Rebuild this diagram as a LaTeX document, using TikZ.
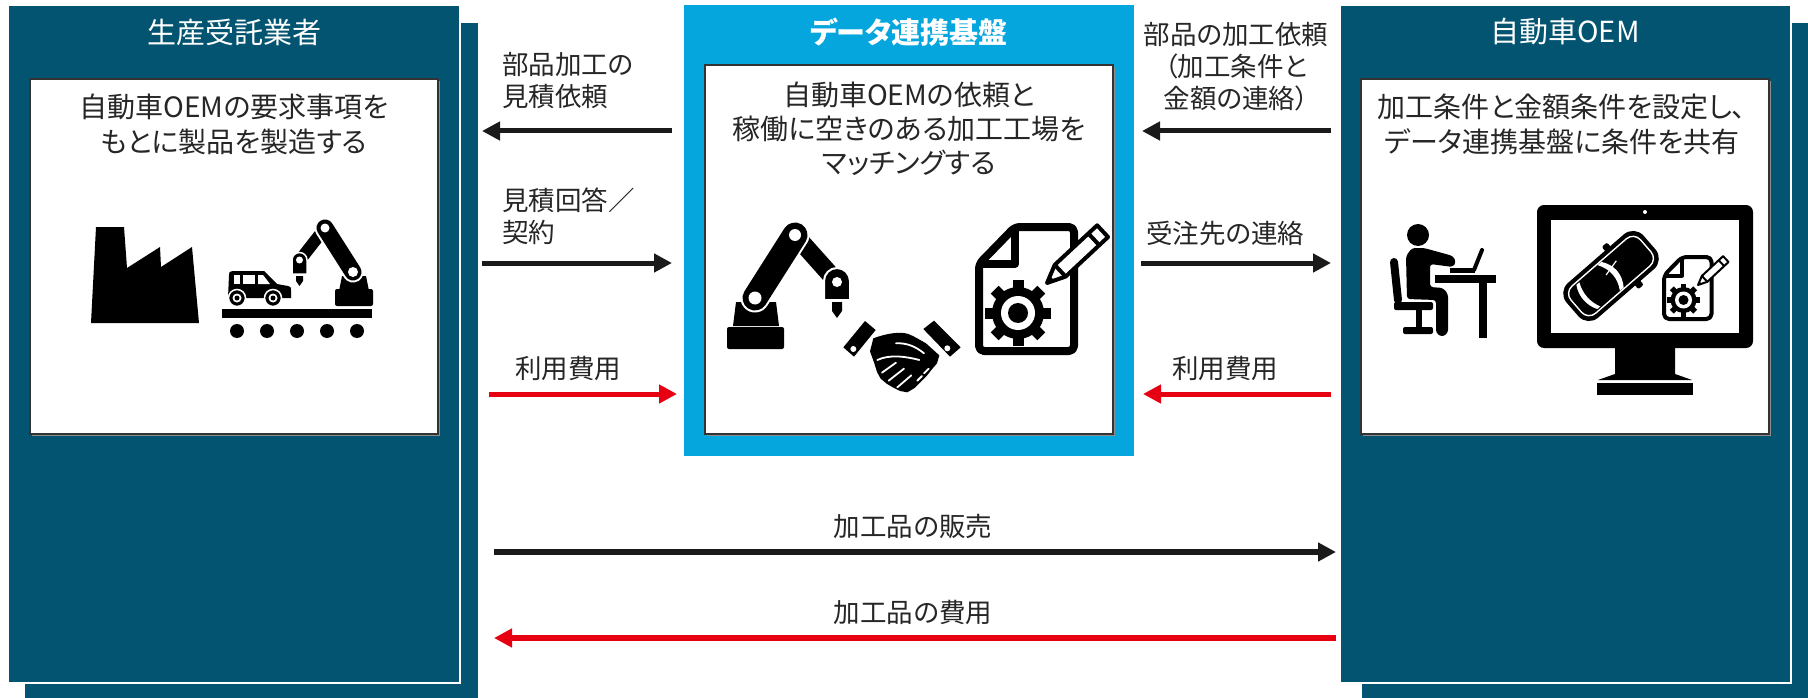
\documentclass[tikz,border=0pt]{standalone}
\usepackage{fontspec}
\setmainfont{Noto Sans CJK JP}[RawFeature=+palt]
\usetikzlibrary{arrows.meta}

\definecolor{panelblue}{HTML}{025470}
\definecolor{hubblue}{HTML}{05A5DE}
\definecolor{payred}{HTML}{E60012}
\definecolor{flowblack}{HTML}{1A1A1A}
\definecolor{txt}{HTML}{262626}
\definecolor{frame}{HTML}{333333}

\tikzset{
  paneltitle/.style={text=white, font=\fontsize{29}{34}\selectfont, inner sep=0pt},
  bodytext/.style={text=txt, font=\fontsize{28}{35}\selectfont, align=center, inner sep=0pt},
  flowlabel/.style={text=txt, font=\fontsize{26.5}{32}\selectfont, inner sep=0pt},
  flowarrow/.style={draw=flowblack, line width=5pt, -{Triangle[length=18pt,width=18pt]}},
  payarrow/.style={flowarrow, draw=payred},
  innerbox/.style={fill=white, draw=frame, line width=2pt},
  innershadow/.style={fill=black!45},
  % sheet of paper with a gear and a pencil; #1 = line-width factor
  pics/docgear/.style={code={
    \draw[line width=#1*8pt, line join=round, rounded corners=5pt, fill=white]
      (40,4) -- (99,4) -- (99,128) -- (4,128) -- (4,41) -- cycle;
    \draw[line width=#1*8pt, line join=round] (40,4) -- (40,41) -- (4,41);
    \fill (43,90) circle (26);
    \foreach \a in {0,45,...,315}
      \fill[rotate around={\a:(43,90)}] (37.5,57) rectangle (48.5,70);
    \fill[white] (43,90) circle (17);
    \fill (43,90) circle (10);
    \begin{scope}[shift={(72,60)}, rotate=43]
      \draw[line width=#1*4pt, line join=round, fill=white]
        (0,0) -- (18,-8) -- (76,-8) -- (76,8) -- (18,8) -- cycle;
      \draw[line width=#1*4pt] (18,-8) -- (18,8) (64,-8) -- (64,8);
      \fill (0,0) -- (7,-3.2) -- (7,3.2) -- cycle;
    \end{scope}
  }},
}

\begin{document}
\begin{tikzpicture}[x=1pt, y=-1pt]
\useasboundingbox (0,0) rectangle (1808,698);

% ---------- panels ----------
\fill[panelblue] (25,23) rectangle (478,698);
\filldraw[fill=panelblue, draw=white, line width=2pt] (8,5) rectangle (460,683);
\fill[panelblue] (1362,23) rectangle (1808,698);
\filldraw[fill=panelblue, draw=white, line width=2pt] (1340,5) rectangle (1791,683);
\fill[hubblue] (684,5) rectangle (1134,456);

\fill[innershadow] (32,81) rectangle (440,436);
\filldraw[innerbox] (30,79) rectangle (438,434);
\fill[innershadow] (707,67) rectangle (1115,436);
\filldraw[innerbox] (705,65) rectangle (1113,434);
\fill[innershadow] (1363,81) rectangle (1771,436);
\filldraw[innerbox] (1361,79) rectangle (1769,434);

% ---------- titles and descriptions ----------
\node[paneltitle] (makertitle) at (234,32) {生産受託業者};
\node[paneltitle, font=\fontsize{29}{34}\selectfont\bfseries] (hubtitle) at (909,32) {データ連携基盤};
\node[paneltitle] (oemtitle) at (1565,32) {自動車OEM};

\node[bodytext] (makertext) at (234,124) {自動車OEMの要求事項を\\もとに製品を製造する};
\node[bodytext, font=\fontsize{28}{34}\selectfont] (hubtext) at (909,129) {自動車OEMの依頼と\\稼働に空きのある加工工場を\\マッチングする};
\node[bodytext] (oemtext) at (1562,124) {加工条件と金額条件を設定し、\\データ連携基盤に条件を共有};

% ---------- factory and assembly line ----------
\fill (91,323) -- (96,227) -- (124,227) -- (127,268) -- (160,247) -- (161,267)
      -- (192,247) -- (199,323) -- cycle;
\fill (222,309) rectangle (372,318);
\foreach \cx in {237,267,297,327,357} \fill (\cx,331) circle (7);
% car
\fill (228,298) -- (229,275) .. controls (229,272) .. (233,271) -- (264,271)
      -- (277,284) -- (288,286) .. controls (291,287) .. (291,290) -- (291,298) -- cycle;
\fill[white] (234,275) rectangle (240,284);
\fill[white] (243,275) rectangle (255,284);
\fill[white] (258,275) -- (263,275) -- (270,284) -- (258,284) -- cycle;
\foreach \wx in {237,273} {
  \filldraw[fill=black, draw=white, line width=1.5pt] (\wx,298) circle (8.5);
  \fill[white] (\wx,298) circle (4.5);
  \fill (\wx,298) circle (2.5);
}
% small robot arm
\fill[rounded corners=2pt] (335,289) rectangle (373,306);
\fill (339,291) -- (342,276) -- (366,276) -- (369,291) -- cycle;
\draw[line width=12pt, line cap=round] (325,228) -- (300,260);
\draw[white, line width=21pt, line cap=round] (353,272) -- (325,228);
\draw[line width=17pt, line cap=round] (353,272) -- (325,228);
\fill[white] (353,272) circle (5);
\fill[white] (325,228) circle (4.5);
\filldraw[fill=black, draw=white, line width=1.5pt]
  (292,274) -- (292,260) arc[start angle=180, end angle=360, radius=7.5] -- (307,274) -- cycle;
\fill[white] (299.5,260) circle (3.5);
\fill (296,276) -- (303,276) -- (303,281) -- (299.5,286) -- (296,281) -- cycle;

% ---------- platform: robot arm, handshake, specification sheet ----------
\fill[rounded corners=2pt] (727,327) rectangle (784,349);
\fill (733,326) -- (736,302) -- (776,302) -- (779,326) -- cycle;
\draw[line width=18pt, line cap=round] (795,235) -- (837,282);
\draw[white, line width=29pt, line cap=round] (755,298) -- (795,235);
\draw[line width=25pt, line cap=round] (755,298) -- (795,235);
\fill[white] (755,298) circle (6.5);
\fill[white] (795,235) circle (6);
\filldraw[fill=black, draw=white, line width=2pt]
  (824,300) -- (824,281) arc[start angle=180, end angle=360, radius=13] -- (850,300) -- cycle;
\fill[white] (837,282) circle (5);
\fill (832,302) -- (842,302) -- (842,311) -- (837,318) -- (832,311) -- cycle;

\begin{scope}[shift={(840,310)}, scale=0.3333]
  % cuffs
  \fill (10,112) -- (75,33) -- (107,60) -- (42,140) -- cycle;
  \fill (250,57) -- (282,32) -- (362,112) -- (330,140) -- cycle;
  \fill[white] (40,117) circle (9);
  \fill[white] (322,115) circle (9);
  % clasped hands
  \fill (100,85) .. controls (140,70) and (180,64) .. (205,72)
        .. controls (225,80) and (240,90) .. (258,100) -- (298,136) -- (291,160)
        -- (274,180) -- (260,198) -- (242,216) -- (224,234) -- (202,247)
        -- (180,243) -- (160,233) -- (140,221) -- (122,206) -- (111,186)
        -- (103,160) -- (90,124) -- cycle;
  \draw[white, line width=1.8pt, line cap=round]
    (168,100) .. controls (200,98) and (228,110) .. (252,130)
    (112,150) .. controls (150,132) and (200,140) .. (238,150)
    (126,188) -- (168,158)
    (146,212) -- (192,176)
    (172,232) -- (214,196)
    (252,190) -- (266,176) (232,212) -- (246,198);
\end{scope}

\pic[scale=1] (sheet) at (975,223) {docgear=1};

% ---------- OEM: engineer at a desk and monitor ----------
\fill (1418,235) circle (11);
\fill[rounded corners=3pt] (1407,299) -- (1406,256) -- (1412,248) -- (1424,248)
      -- (1453,256) -- (1456,262) -- (1453,267) -- (1430,264) -- (1430,287)
      -- (1443,288) -- (1448,294) -- (1448,333) -- (1442,337) -- (1436,333)
      -- (1436,300) -- cycle;
\draw[line width=8pt, line cap=round] (1394,262) -- (1398,300);
\fill[rounded corners=2pt] (1394,302) rectangle (1433,310);
\fill (1416,309) rectangle (1422,329);
\fill[rounded corners=2pt] (1403,327) rectangle (1433,334);
\fill (1435,275) rectangle (1496,283);
\fill (1479,282) rectangle (1487,338);
\fill (1450,268) rectangle (1475,273);
\draw[line width=4pt, line cap=round] (1474,270) -- (1482,250);

\fill[rounded corners=7pt] (1537,205) rectangle (1753,348);
\fill[white] (1551,220) rectangle (1739,333);
\fill[white] (1645,212) circle (2);
\fill (1615,347) -- (1675,347) -- (1675,374) -- (1692,380) -- (1598,380) -- (1615,374) -- cycle;
\fill (1597,383) rectangle (1693,395);

\begin{scope}[shift={(1611,276)}, rotate=41]
  \fill[rounded corners=2pt] (12,-28) rectangle (19,28);
  \fill[rounded corners=14pt] (-51,-23) rectangle (51,23);
  \draw[white, line width=1.4pt, rounded corners=10pt] (-46,-18) rectangle (46,18);
  \fill[white] (2,-17) .. controls (10,-6) and (10,6) .. (2,17) -- (-3,17)
        .. controls (4,6) and (4,-6) .. (-3,-17) -- cycle;
  \fill[white] (-32,-16) .. controls (-38,-6) and (-38,6) .. (-32,16) -- (-28,16)
        .. controls (-33,6) and (-33,-6) .. (-28,-16) -- cycle;
  \draw[white, line width=1.2pt] (-3,-4) -- (14,-8);
\end{scope}
\pic[scale=0.5] (screensheet) at (1662,255) {docgear=0.5};

% ---------- flow labels ----------
\node[flowlabel, anchor=west, align=left] (quotereq) at (502,81) {部品加工の\\見積依頼};
\node[flowlabel, anchor=west, align=left] (quoteans) at (502,216) {見積回答／\\契約};
\node[flowlabel] (feemaker) at (568,368) {利用費用};
\node[flowlabel, align=center] (orderreq) at (1236,67) {部品の加工依頼\\（加工条件と\\金額の連絡）};
\node[flowlabel, anchor=west] (award) at (1146,233) {受注先の連絡};
\node[flowlabel] (feeoem) at (1225,368) {利用費用};
\node[flowlabel] (sale) at (913,526) {加工品の販売};
\node[flowlabel] (cost) at (913,612) {加工品の費用};

% ---------- connector end points ----------
\coordinate (hubA) at (672,131);  \coordinate (makerA) at (482,131);
\coordinate (makerB) at (482,263); \coordinate (hubB) at (672,263);
\coordinate (makerC) at (489,394); \coordinate (hubC) at (677,394);
\coordinate (oemA) at (1331,131);  \coordinate (hubD) at (1142,131);
\coordinate (hubE) at (1141,263);  \coordinate (oemB) at (1331,263);
\coordinate (oemC) at (1331,394);  \coordinate (hubF) at (1143,394);
\coordinate (makerD) at (494,552); \coordinate (oemD) at (1336,552);
\coordinate (oemE) at (1336,638);  \coordinate (makerE) at (494,638);

\draw[flowarrow] (hubA) -- (makerA);
\draw[flowarrow] (makerB) -- (hubB);
\draw[payarrow] (makerC) -- (hubC);
\draw[flowarrow] (oemA) -- (hubD);
\draw[flowarrow] (hubE) -- (oemB);
\draw[payarrow] (oemC) -- (hubF);
\draw[flowarrow, line width=6pt] (makerD) -- (oemD);
\draw[payarrow, line width=6pt] (oemE) -- (makerE);
\end{tikzpicture}
\end{document}
